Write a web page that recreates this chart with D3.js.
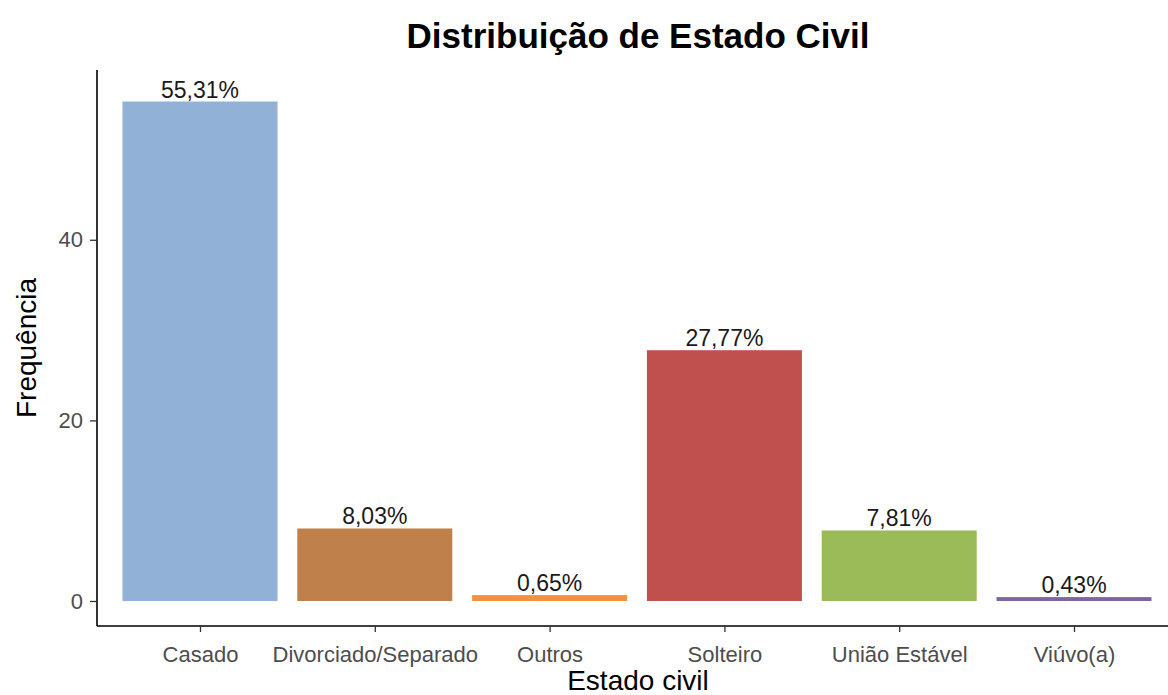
<!DOCTYPE html>
<html>
<head>
  <meta charset="utf-8">
  <script src="https://d3js.org/d3.v7.min.js"></script>
  <style>
    body { margin: 0; background: #fff; }
    text { font-family: "Liberation Sans", Arial, sans-serif; }
  </style>
</head>
<body>
  <script>
    // Data
    var categories = ["Casado", "Divorciado/Separado", "Outros", "Solteiro", "União Estável", "Viúvo(a)"];
    var values = [55.31, 8.03, 0.65, 27.77, 7.81, 0.43];
    var colors = ["#92b1d7", "#c0804c", "#f59040", "#c0504d", "#9bbb59", "#8064a2"];
    var yTicks = [0, 20, 40];

    var width = 1168, height = 695;
    var svg = d3.select("body").append("svg")
      .attr("width", width)
      .attr("height", height);

    // Scales
    var x = d3.scaleLinear().domain([0, 1]).range([200, 374.8]);
    var barW = 155;
    var y = d3.scaleLinear().domain([-2.77, 58.8]).range([626, 70]);

    // Bars
    svg.selectAll("rect.bar")
      .data(values)
      .enter()
      .append("rect")
      .attr("class", "bar")
      .attr("x", function(d, i) { return x(i) - barW / 2; })
      .attr("width", barW)
      .attr("y", function(d) { return y(d); })
      .attr("height", function(d) { return Math.max(y(0) - y(d), 1); })
      .style("fill", function(d, i) { return colors[i]; });

    // Bar labels
    svg.selectAll("text.lbl")
      .data(values)
      .enter()
      .append("text")
      .attr("class", "lbl")
      .attr("x", function(d, i) { return x(i); })
      .attr("y", function(d) { return y(d) - 4; })
      .attr("text-anchor", "middle")
      .style("font-size", "23px")
      .style("fill", "#1a1a1a")
      .text(function(d) { return d.toFixed(2).replace(".", ",") + "%"; });

    // Axes
    var xAxis = d3.axisBottom(x)
      .tickValues(d3.range(categories.length))
      .tickFormat(function(i) { return categories[i]; })
      .tickSize(6)
      .tickSizeOuter(0);
    var gx = svg.append("g")
      .attr("transform", "translate(0,626)")
      .call(xAxis);
    gx.select(".domain").attr("d", "M97,0H1168");

    var yAxis = d3.axisLeft(y)
      .tickValues(yTicks)
      .tickSize(7)
      .tickSizeOuter(0);
    var gy = svg.append("g")
      .attr("transform", "translate(97,0)")
      .call(yAxis);
    gy.select(".domain").attr("d", "M0,70V626");

    svg.selectAll(".domain").style("stroke", "#000").style("stroke-width", 1.6);
    svg.selectAll(".tick line").style("stroke", "#333").style("stroke-width", 1.3);
    svg.selectAll(".tick text")
      .style("font-family", "'Liberation Sans', Arial, sans-serif")
      .style("font-size", "22px")
      .style("fill", "#4d4d4d");
    gx.selectAll(".tick text").attr("dy", null).attr("y", 36);
    gy.selectAll(".tick text").attr("x", -14);

    // Titles
    svg.append("text")
      .attr("x", 638)
      .attr("y", 48)
      .attr("text-anchor", "middle")
      .style("font-size", "35px")
      .style("font-weight", "bold")
      .text("Distribuição de Estado Civil");

    svg.append("text")
      .attr("x", 638)
      .attr("y", 690)
      .attr("text-anchor", "middle")
      .style("font-size", "28px")
      .text("Estado civil");

    svg.append("text")
      .attr("transform", "translate(36,348) rotate(-90)")
      .attr("text-anchor", "middle")
      .style("font-size", "28px")
      .text("Frequência");
  </script>
</body>
</html>
